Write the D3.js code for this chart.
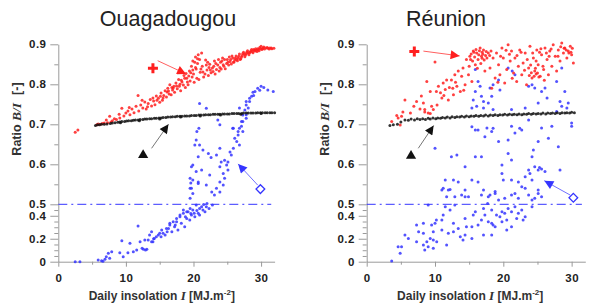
<!DOCTYPE html>
<html>
<head>
<meta charset="utf-8">
<script src="https://cdn.jsdelivr.net/npm/d3@7"></script>
<style>
  body { margin: 0; background: #fff; }
  text { font-family: Arial, "Liberation Sans", sans-serif; }
</style>
</head>
<body>
<svg id="chart" width="591" height="306"></svg>
<script>
// ---------------- data (daily insolation I [MJ/m2], ratio B/I) ----------------
var ouagaRed = [
  [2.5,0.680],[2.9,0.686],[5.7,0.699],[5.9,0.701],[6.2,0.700],[6.5,0.702],[6.8,0.703],[7.1,0.711],[7.3,0.704],[7.6,0.720],
  [7.8,0.706],[8.0,0.709],[8.3,0.714],[8.6,0.712],[9.0,0.725],[9.1,0.716],[9.4,0.740],[9.7,0.721],[10.0,0.728],[10.3,0.733],
  [10.5,0.742],[10.6,0.724],[10.9,0.738],[11.2,0.729],[11.5,0.745],[11.8,0.772],[11.9,0.733],[12.2,0.748],[12.4,0.760],[12.5,0.741],
  [12.8,0.756],[13.0,0.738],[13.2,0.744],[13.3,0.752],[13.6,0.762],[13.8,0.746],[14.0,0.766],[14.1,0.758],[14.3,0.749],[14.5,0.771],
  [14.8,0.765],[15.0,0.755],[15.1,0.770],[15.2,0.778],[15.4,0.760],[15.6,0.772],[15.8,0.784],[16.0,0.768],[16.1,0.781],[16.2,0.790],
  [16.4,0.776],[16.5,0.799],[16.7,0.774],[16.9,0.786],[17.0,0.791],[17.1,0.795],[17.2,0.780],[17.4,0.803],[17.6,0.789],[17.8,0.812],
  [17.9,0.795],[18.0,0.800],[18.1,0.784],[18.3,0.806],[18.5,0.798],[18.6,0.822],[18.8,0.792],[18.9,0.827],[19.0,0.815],[19.2,0.799],
  [19.3,0.821],[19.4,0.833],[19.5,0.808],[19.7,0.845],[19.8,0.818],[19.9,0.858],[20.0,0.826],[20.1,0.805],[20.2,0.855],[20.3,0.868],
  [20.4,0.838],[20.5,0.815],[20.6,0.852],[20.7,0.874],[20.8,0.812],[21.0,0.830],[21.1,0.838],[21.2,0.878],[21.3,0.845],[21.5,0.818],
  [21.7,0.826],[21.8,0.861],[22.0,0.836],[22.2,0.822],[22.3,0.842],[22.4,0.850],[22.6,0.829],[22.8,0.841],[22.9,0.832],[23.1,0.858],
  [23.2,0.826],[23.4,0.837],[23.6,0.848],[23.7,0.862],[23.8,0.833],[24.0,0.855],[24.1,0.838],[24.3,0.866],[24.4,0.849],[24.5,0.845],
  [24.7,0.839],[24.9,0.852],[25.0,0.862],[25.2,0.848],[25.3,0.868],[25.4,0.857],[25.6,0.851],[25.8,0.866],[25.9,0.855],[26.0,0.856],
  [26.1,0.861],[26.3,0.871],[26.5,0.859],[26.6,0.866],[26.8,0.876],[26.9,0.862],[27.0,0.864],[27.2,0.872],[27.4,0.880],[27.5,0.875],
  [27.6,0.869],[27.8,0.877],[28.0,0.884],[28.2,0.874],[28.3,0.879],[28.4,0.881],[28.6,0.887],[28.8,0.879],[29.0,0.885],[29.1,0.883],
  [29.2,0.889],[29.4,0.882],[29.6,0.887],[29.8,0.892],[30.0,0.895],[30.1,0.887],[30.2,0.889],[30.4,0.893],[30.7,0.891],[31.0,0.890],
  [31.3,0.891],[31.6,0.889],[31.9,0.890],
  [17.5,0.796],[18.2,0.810],[18.7,0.815],[19.1,0.806],[19.6,0.829],[20.3,0.842],[20.9,0.862],[21.4,0.831],[21.9,0.848],[22.5,0.836],
  [23.0,0.845],[23.3,0.852],[23.9,0.842],[24.2,0.858],[24.6,0.862],[25.1,0.855],[25.5,0.862],[25.7,0.871],[26.2,0.866],[26.4,0.862],
  [26.7,0.870],[27.1,0.868],[27.3,0.877],[27.7,0.873],[27.9,0.881],[28.1,0.878],[28.5,0.884],[28.7,0.882],[28.9,0.887],[29.3,0.885],
  [29.5,0.889],[29.7,0.884],[29.9,0.889],[30.3,0.891],[30.5,0.888],[30.9,0.892],[31.2,0.888],[31.5,0.891],[16.8,0.792],[16.3,0.783],
  [19.9,0.836],[20.6,0.864],[22.1,0.855],[15.5,0.766],[14.6,0.760]
];
var ouagaBlack = [
  [5.5,0.697],[5.8,0.699],[6.1,0.699],[6.4,0.700],[6.8,0.700],[7.2,0.701],[7.7,0.702],[8.0,0.703],[8.4,0.704],[8.8,0.705],
  [9.1,0.706],[9.2,0.704],[9.4,0.707],[9.8,0.707],[10.1,0.708],[10.4,0.709],[10.8,0.709],[11.1,0.710],[11.4,0.711],[11.8,0.711],
  [12.0,0.709],[12.1,0.712],[12.5,0.712],[12.8,0.713],[13.1,0.713],[13.5,0.714],[13.8,0.714],[14.2,0.715],[14.5,0.715],[14.9,0.716],
  [15.0,0.713],[15.2,0.716],[15.5,0.717],[15.9,0.717],[16.2,0.718],[16.6,0.718],[16.9,0.719],[17.3,0.719],[17.6,0.720],[18.0,0.720],
  [18.1,0.718],[18.3,0.720],[18.7,0.721],[19.0,0.721],[19.4,0.721],[19.7,0.722],[20.1,0.722],[20.4,0.722],[20.8,0.723],[21.0,0.721],
  [21.1,0.723],[21.5,0.723],[21.8,0.724],[22.2,0.724],[22.5,0.724],[22.9,0.725],[23.2,0.725],[23.6,0.725],[23.9,0.725],[24.0,0.723],
  [24.3,0.726],[24.6,0.726],[25.0,0.726],[25.3,0.726],[25.7,0.727],[26.0,0.727],[26.4,0.727],[26.7,0.727],[27.0,0.725],[27.1,0.727],
  [27.4,0.728],[27.8,0.728],[28.1,0.728],[28.5,0.728],[28.8,0.728],[29.2,0.728],[29.5,0.729],[29.9,0.729],[30.0,0.727],[30.2,0.729],
  [30.6,0.729],[30.9,0.729],[31.3,0.729],[31.6,0.729],[32.0,0.729]
];
var ouagaBlue = [
  [2.5,0.000],[3.2,0.000],[5.9,0.015],[6.4,0.009],[6.6,0.004],[6.9,0.021],[7.1,0.043],[7.4,0.073],[7.6,0.030],[7.9,0.087],
  [9.1,0.078],[9.4,0.183],[9.6,0.043],[10.3,0.078],[10.6,0.160],[11.1,0.087],[11.6,0.102],[11.8,0.310],[12.1,0.174],[12.4,0.117],
  [12.6,0.108],[12.8,0.189],[12.9,0.102],[13.1,0.108],[13.3,0.189],[13.5,0.232],[13.8,0.261],[13.8,0.174],[14.0,0.174],[14.2,0.203],
  [14.5,0.217],[14.8,0.232],[15.0,0.247],[15.3,0.276],[15.5,0.247],[15.8,0.232],[16.0,0.290],[16.3,0.290],[16.5,0.334],[16.5,0.319],
  [16.8,0.261],[17.0,0.348],[17.2,0.304],[17.5,0.348],[17.5,0.377],[17.7,0.276],[18.0,0.391],[18.0,0.406],[18.2,0.334],[18.5,0.421],
  [18.5,0.450],[18.7,0.304],[19.0,0.377],[19.0,0.435],[19.2,0.435],[19.45,0.363],[19.5,0.464],[19.7,0.406],[19.9,0.450],[20.1,0.421],
  [20.2,0.391],[20.4,0.493],[20.7,0.421],[20.9,0.464],[20.9,0.406],[21.2,0.478],[21.4,0.450],[21.5,0.498],[21.7,0.435],[21.9,0.478],
  [22.0,0.502],[22.3,0.464],[22.8,0.493],[16.1,0.261],[17.3,0.319],[18.8,0.391],[19.6,0.420],[20.5,0.445],[15.2,0.218],[14.1,0.200],
  [19.5,0.515],[19.9,0.527],[19.5,0.540],[19.7,0.540],[19.6,0.553],[20.7,0.552],[20.7,0.556],[19.5,0.565],[19.9,0.561],[20.4,0.582],
  [21.2,0.586],[19.7,0.594],[19.9,0.598],[20.7,0.619],[21.4,0.636],[20.2,0.648],[20.9,0.648],[20.4,0.661],[20.5,0.682],[20.8,0.690],
  [21.9,0.740],[20.9,0.752],[22.2,0.627],[22.6,0.617],[23.9,0.640],[23.4,0.623],[24.1,0.606],[24.6,0.610],[23.9,0.594],[22.4,0.573],
  [21.9,0.548],[22.7,0.531],[23.1,0.523],[23.9,0.531],[23.4,0.540],[24.4,0.548],[23.9,0.556],[24.6,0.565],[24.4,0.577],[25.1,0.586],
  [24.9,0.598],[25.1,0.606],[25.6,0.623],[25.4,0.631],[25.9,0.640],[26.8,0.648],[26.4,0.657],[26.1,0.665],[26.6,0.673],[26.6,0.682],
  [27.3,0.682],[26.8,0.690],[25.9,0.690],[25.8,0.690],[27.1,0.695],[23.9,0.699],[27.1,0.707],[27.3,0.707],[23.6,0.711],[27.8,0.715],
  [27.3,0.723],[27.8,0.724],[27.6,0.736],[26.8,0.741],[28.1,0.741],[27.8,0.748],[27.8,0.757],[28.3,0.757],[28.3,0.765],[28.6,0.770],
  [28.9,0.772],[28.8,0.780],[29.1,0.782],[29.8,0.785],[29.5,0.790],[30.4,0.792],[30.0,0.795],[31.0,0.786],[31.8,0.782]
];

var reunionRed = [
  [3.66,0.707],[4.4,0.722],[4.6,0.716],[4.9,0.698],[5.1,0.720],[5.3,0.731],[5.6,0.761],[6.4,0.728],[7.3,0.757],[7.8,0.738],
  [8.0,0.771],[8.3,0.753],[8.5,0.737],[8.5,0.731],[8.8,0.807],[9.0,0.728],[9.3,0.727],[9.3,0.782],[9.5,0.745],[9.75,0.737],
  [10.0,0.856],[10.2,0.782],[10.3,0.748],[10.5,0.795],[10.8,0.779],[11.0,0.766],[11.2,0.803],[11.5,0.787],[11.7,0.811],[11.95,0.761],
  [12.1,0.792],[12.4,0.811],[12.7,0.774],[12.9,0.824],[13.0,0.805],[13.2,0.795],[13.4,0.833],[13.7,0.782],[13.9,0.820],[14.1,0.841],
  [14.2,0.785],[14.4,0.799],[14.6,0.862],[14.9,0.824],[15.0,0.845],[15.1,0.870],[15.3,0.876],[15.4,0.807],[15.5,0.858],[15.6,0.883],
  [15.8,0.868],[15.9,0.849],[16.0,0.887],[16.1,0.878],[16.2,0.840],[16.3,0.862],[16.4,0.874],[16.6,0.891],[16.7,0.852],[16.8,0.870],
  [16.9,0.880],[17.1,0.886],[17.2,0.861],[17.3,0.833],[17.4,0.872],[17.6,0.866],[17.8,0.878],[18.05,0.841],[18.2,0.883],[18.3,0.790],
  [18.5,0.866],[18.8,0.816],[19.0,0.878],[19.2,0.805],[19.3,0.849],[19.5,0.824],[19.6,0.870],[19.8,0.891],[20.0,0.866],[20.2,0.803],
  [20.5,0.837],[20.7,0.899],[20.9,0.875],[21.0,0.858],[21.2,0.883],[21.3,0.815],[21.5,0.828],[21.7,0.866],[21.96,0.807],[22.0,0.872],
  [22.2,0.845],[22.4,0.886],[22.7,0.824],[22.9,0.853],[23.1,0.835],[23.2,0.878],[23.4,0.799],[23.5,0.862],[23.7,0.841],[23.9,0.895],
  [24.0,0.848],[24.2,0.816],[24.4,0.866],[24.5,0.820],[24.6,0.833],[24.7,0.840],[24.8,0.858],[24.9,0.886],[25.0,0.828],[25.1,0.849],
  [25.3,0.880],[25.4,0.820],[25.6,0.874],[25.8,0.845],[25.9,0.837],[26.0,0.810],[26.1,0.891],[26.3,0.878],[26.4,0.862],[26.6,0.824],
  [26.8,0.883],[27.0,0.888],[27.1,0.845],[27.3,0.899],[27.6,0.870],[27.8,0.833],[28.0,0.870],[28.05,0.886],[28.3,0.858],[28.55,0.903],
  [28.8,0.878],[28.9,0.890],[29.0,0.891],[29.3,0.866],[29.5,0.883],[29.6,0.878],[29.8,0.895],[30.0,0.874],[30.1,0.890],[30.25,0.853],
  [15.7,0.880],[16.5,0.884],[17.0,0.875],[17.5,0.882],[15.2,0.862],[16.9,0.865],[18.0,0.872],[20.4,0.885],[22.6,0.880],[24.3,0.878],
  [25.5,0.889],[26.7,0.870],[28.4,0.894],[29.2,0.886],[29.9,0.880],[24.1,0.829],[24.8,0.826],[25.2,0.818],[23.8,0.822],[12.6,0.790],
  [11.3,0.772],[6.9,0.745]
];
var reunionBlack = [
  [3.4,0.697],[3.9,0.699],[4.5,0.700],[5.0,0.706],[5.6,0.711],[6.1,0.710],[6.5,0.713],[7.0,0.711],[7.4,0.714],[7.8,0.712],
  [8.2,0.714],[8.6,0.712],[9.0,0.715],[9.3,0.713],[9.7,0.716],[10.1,0.714],[10.4,0.716],[10.8,0.715],[11.1,0.717],[11.5,0.716],
  [11.8,0.718],[12.2,0.716],[12.5,0.719],[12.9,0.717],[13.2,0.719],[13.6,0.718],[13.9,0.720],[14.3,0.718],[14.6,0.721],[15.0,0.719],
  [15.3,0.721],[15.7,0.720],[16.0,0.722],[16.4,0.720],[16.7,0.722],[17.1,0.721],[17.4,0.723],[17.8,0.721],[18.1,0.723],[18.5,0.722],
  [18.8,0.724],[19.2,0.722],[19.5,0.724],[19.9,0.723],[20.2,0.725],[20.6,0.723],[20.9,0.725],[21.3,0.724],[21.6,0.725],[22.0,0.724],
  [22.3,0.726],[22.7,0.724],[23.0,0.726],[23.4,0.725],[23.7,0.727],[24.1,0.725],[24.4,0.727],[24.8,0.726],[25.1,0.727],[25.5,0.726],
  [25.8,0.728],[26.2,0.726],[26.5,0.728],[26.9,0.727],[27.2,0.728],[27.6,0.727],[27.9,0.729],[28.3,0.727],[28.6,0.729],[29.0,0.728],
  [29.3,0.729],[29.7,0.728],[30.0,0.730],[30.4,0.729]
];
var reunionBlue = [
  [3.66,0.006],[4.6,0.130],[4.9,0.073],[5.1,0.130],[5.6,0.232],[6.1,0.203],[7.3,0.174],[7.3,0.319],[7.6,0.261],[8.3,0.247],
  [8.3,0.145],[8.3,0.334],[8.5,0.102],[8.8,0.174],[9.0,0.130],[9.3,0.203],[9.5,0.319],[9.75,0.189],[9.75,0.117],[9.75,0.261],
  [10.0,0.334],[10.2,0.363],[10.25,0.174],[11.0,0.276],[11.0,0.363],[11.2,0.406],[11.7,0.145],[11.95,0.247],[12.7,0.261],[12.7,0.334],
  [13.4,0.290],[13.7,0.217],[14.1,0.189],[14.4,0.232],[14.4,0.377],[14.6,0.304],[15.4,0.304],[15.4,0.203],[15.6,0.406],[15.9,0.435],
  [16.3,0.319],[16.8,0.363],[17.1,0.232],[17.1,0.464],[17.3,0.406],[17.8,0.348],[18.3,0.334],[18.3,0.232],[18.3,0.450],[18.5,0.319],
  [18.8,0.304],[19.0,0.406],[19.5,0.391],[19.8,0.435],[19.8,0.348],[20.2,0.421],[20.5,0.363],[20.5,0.276],[20.7,0.464],[21.2,0.435],
  [21.2,0.304],[21.7,0.478],[21.96,0.377],[22.2,0.421],[22.7,0.450],[22.9,0.363],[23.2,0.391],[24.2,0.478],[9.0,0.493],[11.5,0.478],
  [12.2,0.450],[12.9,0.493],
  [11.2,0.540],[11.5,0.561],[11.7,0.519],[12.2,0.537],[12.9,0.519],[13.9,0.523],[14.4,0.519],[14.9,0.519],[16.8,0.523],[17.7,0.502],
  [17.8,0.519],[18.8,0.527],[19.3,0.511],[20.2,0.515],[21.2,0.523],[22.2,0.515],[22.7,0.544],[23.7,0.523],[24.2,0.511],[25.1,0.527],
  [11.0,0.536],[11.95,0.536],[12.7,0.561],[13.4,0.556],[14.4,0.536],[15.4,0.561],[16.3,0.556],[17.1,0.536],[18.05,0.523],[18.8,0.532],
  [19.8,0.577],[20.0,0.561],[21.2,0.561],[21.7,0.527],[22.2,0.556],[23.2,0.569],[23.2,0.540],[23.7,0.586],[23.9,0.577],[24.2,0.561],
  [24.6,0.515],[25.1,0.536],[25.6,0.519],
  [10.0,0.640],[12.4,0.619],[13.2,0.623],[14.4,0.594],[15.9,0.619],[16.8,0.619],[19.8,0.598],[20.7,0.627],[21.2,0.611],[24.2,0.619],
  [24.4,0.636],[24.6,0.594],[25.1,0.586],[25.3,0.592],[25.6,0.588],[26.1,0.582],[28.3,0.586],
  [15.4,0.694],[15.9,0.686],[16.3,0.686],[17.3,0.669],[17.6,0.691],[18.3,0.682],[18.5,0.690],[19.3,0.657],[20.7,0.661],[21.2,0.695],
  [21.7,0.678],[22.4,0.690],[22.7,0.686],[23.7,0.711],[25.1,0.657],[25.6,0.691],[26.6,0.665],[27.1,0.695],[28.05,0.644],[30.0,0.695],
  [30.0,0.703],
  [15.4,0.741],[15.6,0.761],[15.9,0.782],[15.9,0.837],[16.1,0.745],[16.3,0.807],[16.6,0.795],[16.8,0.770],[17.1,0.757],[17.1,0.741],
  [17.8,0.753],[18.05,0.791],[18.3,0.770],[18.5,0.799],[18.5,0.737],[19.3,0.811],[19.5,0.786],[20.7,0.841],[21.2,0.737],[21.3,0.833],
  [21.7,0.824],[23.2,0.741],[23.7,0.795],[24.2,0.799],[24.6,0.791],[25.1,0.753],[25.6,0.782],[26.1,0.791],[26.4,0.766],[27.8,0.807],
  [27.8,0.732],[28.3,0.757],[28.55,0.841],[28.55,0.745],[29.0,0.782],[29.3,0.741],[29.5,0.753]
];

// annotation symbols (+, triangle, diamond) and their arrows, in data units
var ouagaMarks = [[14.0,0.840],[12.55,0.623],[29.9,0.538]];
var ouagaArrows = [[14.7,0.859,18.9,0.826],[13.8,0.640,16.3,0.700],[29.5,0.548,26.6,0.601]];
var reunionMarks = [[6.97,0.882],[6.49,0.621],[30.25,0.5165]];
var reunionArrows = [[8.3,0.883,13.6,0.871],[7.55,0.640,9.8,0.697],[29.8,0.523,26.0,0.559]];

var xMajor = [0, 10, 20, 30];
var xMinor = [5, 15, 25];
var yMajor = [0, 0.2, 0.4, 0.5, 0.6, 0.7, 0.8, 0.9];
var yMinor = [0.05, 0.1, 0.15, 0.25, 0.3, 0.35, 0.45, 0.55, 0.65, 0.75, 0.85];

// ---------------- drawing ----------------
var RED = "#ff1f1f", BLUE = "#3535ff", BLACK = "#111";

var svg = d3.select("#chart");
var defs = svg.append("defs");
[["red", RED], ["black", BLACK], ["blue", BLUE]].forEach(function(m) {
  defs.append("marker")
    .attr("id", "arrow-" + m[0])
    .attr("viewBox", "0 0 10 10")
    .attr("refX", 10).attr("refY", 5)
    .attr("markerWidth", 10).attr("markerHeight", 9)
    .attr("markerUnits", "userSpaceOnUse")
    .attr("orient", "auto")
    .append("path")
    .attr("d", "M0,0 L10,5 L0,10 z")
    .attr("fill", m[1]);
});

var panels = [
  { title: "Ouagadougou", titleX: 168, left: 58.3, width: 216.3,
    red: ouagaRed, black: ouagaBlack, blue: ouagaBlue, marks: ouagaMarks, arrows: ouagaArrows },
  { title: "R\u00e9union", titleX: 446, left: 366.7, width: 218.6,
    red: reunionRed, black: reunionBlack, blue: reunionBlue, marks: reunionMarks, arrows: reunionArrows }
];

panels.forEach(function(p) {
  var x = d3.scaleLinear().domain([0, 32]).range([p.left, p.left + p.width]);
  // broken y axis: 0-0.5 compressed, 0.5-0.9 expanded
  var y = d3.scaleLinear().domain([0, 0.5, 0.9]).range([261.7, 204.3, 44.3]);

  svg.append("text")
    .attr("x", p.titleX).attr("y", 26)
    .attr("text-anchor", "middle")
    .attr("font-size", "21.5px")
    .attr("fill", "#222")
    .text(p.title);

  // axes
  var yAxis = svg.append("g").attr("transform", "translate(" + p.left + ",0)")
    .call(d3.axisLeft(y).tickValues(yMajor).tickSize(8).tickSizeOuter(0).tickPadding(4)
      .tickFormat(function(d) { return d === 0 ? "0" : d3.format(".1f")(d); }));
  svg.append("g").attr("transform", "translate(" + p.left + ",0)")
    .call(d3.axisLeft(y).tickValues(yMinor).tickSize(4).tickSizeOuter(0).tickFormat(""))
    .select(".domain").remove();

  var xAxis = svg.append("g").attr("transform", "translate(0,261.7)")
    .call(d3.axisBottom(x).tickValues(xMajor).tickSize(5).tickSizeOuter(0).tickPadding(7));
  svg.append("g").attr("transform", "translate(0,261.7)")
    .call(d3.axisBottom(x).tickValues(xMinor).tickSize(3).tickSizeOuter(0).tickFormat(""))
    .select(".domain").remove();

  svg.selectAll(".domain, .tick line").attr("stroke", "#9a9a9a");
  [yAxis, xAxis].forEach(function(a) {
    a.selectAll("text")
      .attr("font-family", "Arial, 'Liberation Sans', sans-serif")
      .attr("font-size", "11.5px")
      .attr("letter-spacing", "0.4px")
      .attr("font-weight", "bold")
      .attr("fill", "#222");
  });

  // axis titles
  var yl = svg.append("text")
    .attr("transform", "translate(" + (p.left - 37.3) + ",119) rotate(-90)")
    .attr("text-anchor", "middle")
    .attr("font-size", "12.5px").attr("font-weight", "bold").attr("fill", "#333");
  yl.append("tspan").text("Ratio ");
  yl.append("tspan").attr("font-family", "'Liberation Serif', 'Times New Roman', serif")
    .attr("font-style", "italic").attr("font-size", "13.5px").text("B/I");
  yl.append("tspan").attr("dx", 8).text("[-]");

  var xl = svg.append("text")
    .attr("x", p.left + 103.5).attr("y", 300)
    .attr("text-anchor", "middle")
    .attr("font-size", "12px").attr("font-weight", "bold").attr("fill", "#333");
  xl.append("tspan").text("Daily insolation ");
  xl.append("tspan").attr("font-family", "'Liberation Serif', 'Times New Roman', serif")
    .attr("font-style", "italic").attr("font-size", "13px").text("I");
  xl.append("tspan").text(" [MJ.m");
  xl.append("tspan").attr("font-size", "8px").attr("dy", -5).text("-2");
  xl.append("tspan").attr("dy", 5).text("]");

  // dash-dot threshold at 0.5
  svg.append("line")
    .attr("x1", x(0)).attr("x2", x(31.5))
    .attr("y1", y(0.5)).attr("y2", y(0.5))
    .attr("stroke", BLUE).attr("stroke-width", 1)
    .attr("stroke-dasharray", "9,4,2,4");

  // scatter series
  [[p.blue, BLUE], [p.red, RED], [p.black, BLACK]].forEach(function(s) {
    svg.append("g").selectAll("circle")
      .data(s[0])
      .enter().append("circle")
      .attr("cx", d => x(d[0]))
      .attr("cy", d => y(d[1]))
      .attr("r", 1.5)
      .attr("fill", s[1])
      .attr("fill-opacity", 0.85);
  });

  // arrows
  var arrowCols = [["red", "#ff6060"], ["black", "#777"], ["blue", "#7070ff"]];
  p.arrows.forEach(function(a, i) {
    svg.append("line")
      .attr("x1", x(a[0])).attr("y1", y(a[1]))
      .attr("x2", x(a[2])).attr("y2", y(a[3]))
      .attr("stroke", arrowCols[i][1]).attr("stroke-width", 1)
      .attr("marker-end", "url(#arrow-" + arrowCols[i][0] + ")");
  });

  // symbols
  var plus = p.marks[0], tri = p.marks[1], dia = p.marks[2];
  svg.append("path")
    .attr("transform", "translate(" + x(plus[0]) + "," + y(plus[1]) + ")")
    .attr("d", "M-5,0 H5 M0,-5 V5")
    .attr("stroke", RED).attr("stroke-width", 3);
  svg.append("path")
    .attr("transform", "translate(" + x(tri[0]) + "," + y(tri[1]) + ")")
    .attr("d", d3.symbol().type(d3.symbolTriangle).size(45))
    .attr("fill", BLACK);
  svg.append("path")
    .attr("transform", "translate(" + x(dia[0]) + "," + y(dia[1]) + ") rotate(45)")
    .attr("d", d3.symbol().type(d3.symbolSquare).size(38))
    .attr("fill", "#fff").attr("stroke", BLUE).attr("stroke-width", 1.3);
});
</script>
</body>
</html>
